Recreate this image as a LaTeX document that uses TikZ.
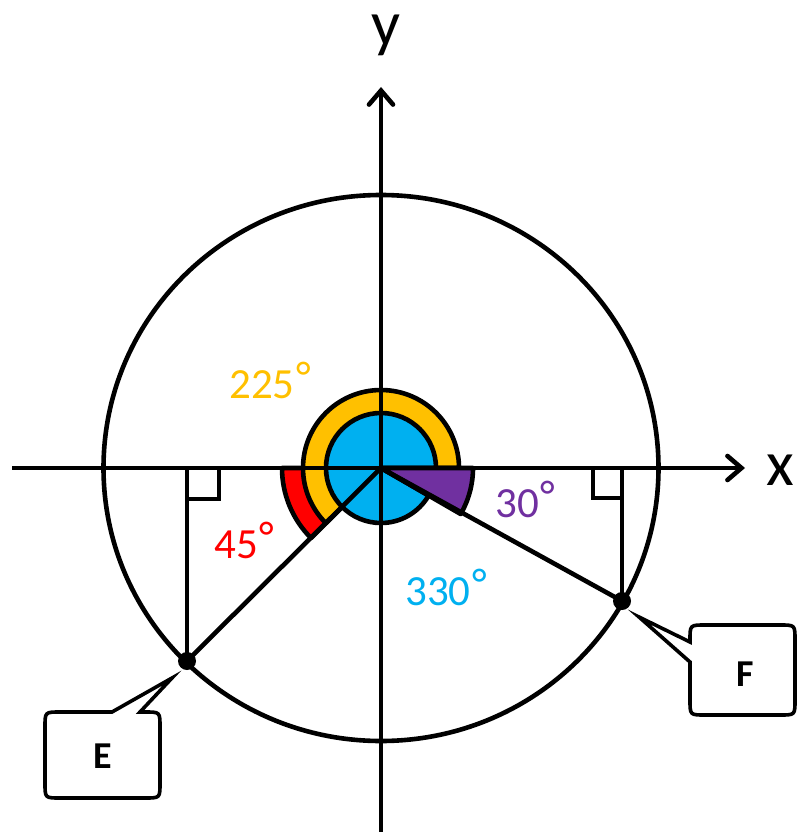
\documentclass[tikz,border=0pt]{standalone}
\usepackage{fontspec}
\setmainfont{Carlito}
\usetikzlibrary{arrows.meta,calc}
\definecolor{cOrange}{HTML}{FFC000}
\definecolor{cRed}{HTML}{FF0000}
\definecolor{cBlue}{HTML}{00B0F0}
\definecolor{cPurple}{HTML}{7030A0}
\newcommand{\degs}{\hspace{2pt}\raisebox{7pt}{°}}
\begin{document}
\begin{tikzpicture}[x=1pt,y=-1pt,
  thick line/.style={line width=4.6pt},
  sector/.style={draw=black,line width=4.6pt,line join=round},
  axisline/.style={line width=4.6pt,-{Straight Barb[length=14pt,width=24pt,line cap=round]}},
  marker/.style={line width=3.2pt},
  callout/.style={draw=black,fill=white,line width=3.6pt},
  anglabel/.style={font=\fontsize{43}{43}\selectfont,anchor=base west,inner sep=0pt},
  axlabel/.style={font=\fontsize{64}{64}\selectfont,inner sep=0pt,anchor=base,text height=31pt,text depth=14pt},
  boxlabel/.style={font=\fontsize{38}{38}\selectfont\bfseries,inner sep=0pt},
  dot/.style={circle,fill=black,inner sep=0pt,minimum size=18pt}]
\useasboundingbox (0,0) rectangle (798,832);
\coordinate (O) at (381,468);
\coordinate (E) at (187,661);
\coordinate (F) at (622,601);
\coordinate (Ef) at (187,468);
\coordinate (Ff) at (622,468);
\coordinate (xl) at (12,468);
\coordinate (xr) at (745,468);
\coordinate (yb) at (381,840);
\coordinate (yt) at (381,87);
% sectors
\filldraw[sector,fill=cRed] (O) -- ++(-180:99) arc[start angle=-180,end angle=-225,radius=99] -- cycle;
\filldraw[sector,fill=cOrange] (O) -- ++(0:78) arc[start angle=0,end angle=-225,radius=78] -- cycle;
\filldraw[sector,fill=cBlue] (O) -- ++(0:55) arc[start angle=0,end angle=-330,radius=55] -- cycle;
\filldraw[sector,fill=cPurple] (O) -- ++(-330:92) arc[start angle=-330,end angle=-360,radius=92] -- cycle;
% circle
\draw[thick line] (O) ellipse[x radius=277.5,y radius=273];
% axes
\draw[axisline] (xl) -- (xr);
\draw[axisline] (yb) -- (yt);
\node[axlabel] (ylab) at (386,46) {y};
\node[axlabel] (xlab) at (780,485) {x};
% radii and perpendiculars
\draw[thick line] (O) -- (E);
\draw[thick line] (O) -- (F);
\draw[thick line] (E) -- (Ef);
\draw[thick line] (F) -- (Ff);
\draw[marker] ($(Ef)+(32,0)$) -- ++(0,31) -- ++(-32,0);
\draw[marker] ($(Ff)+(-29,0)$) -- ++(0,30) -- ++(29,0);
\node[dot] (Ed) at (E) {};
\node[dot] (Fd) at (F) {};
% labels
\node[anglabel,text=cOrange] (l225) at (229,398) {225\degs};
\node[anglabel,text=cRed] (l45) at (214,558) {45\degs};
\node[anglabel,text=cBlue] (l330) at (405,605) {330\degs};
\node[anglabel,text=cPurple] (l30) at (495,517) {30\degs};
% callouts
\coordinate (Et) at (172,678);
\draw[callout] (112,712) -- (Et) -- (140,712) -- (145,712) .. controls (160,712) .. (160,727) -- (160,783) .. controls (160,798) .. (145,798) -- (60,798) .. controls (45,798) .. (45,783) -- (45,727) .. controls (45,712) .. (60,712) -- cycle;
\node[boxlabel] (Elab) at (103,756) {E};
\coordinate (Ft) at (639,617);
\draw[callout] (690,662) -- (Ft) -- (690,642) -- (690,640) .. controls (690,625) .. (705,625) -- (780,625) .. controls (795,625) .. (795,640) -- (795,700) .. controls (795,715) .. (780,715) -- (705,715) .. controls (690,715) .. (690,700) -- cycle;
\node[boxlabel] (Flab) at (745,674) {F};
\end{tikzpicture}
\end{document}
